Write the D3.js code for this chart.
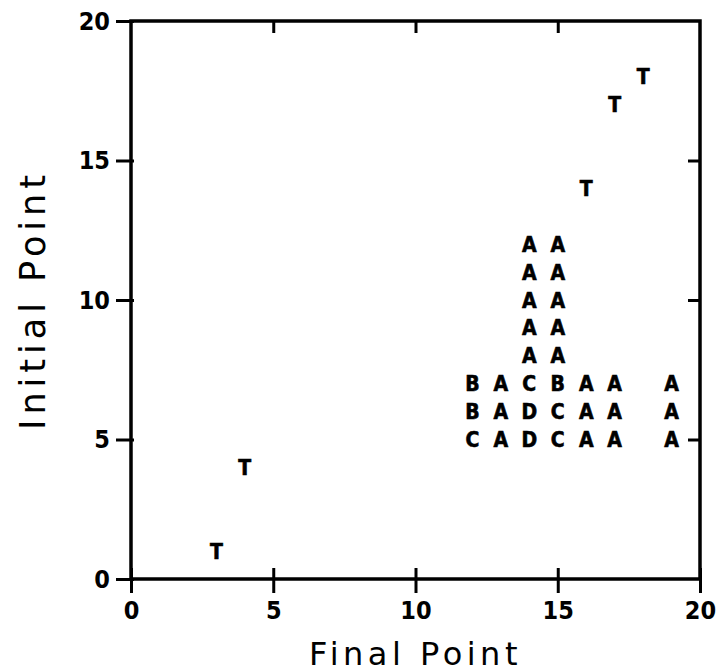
<!DOCTYPE html>
<html>
<head>
<meta charset="utf-8">
<script src="https://cdn.jsdelivr.net/npm/d3@7"></script>
<style>
  body { margin: 0; background: #fff; }
  svg { display: block; }
</style>
</head>
<body>
<div id="chart"></div>
<script>
////////////////////////////////////////////////////////////////
// Data: each point is (final point, initial point) with a code letter

let finalPoint   = [3, 4, 16, 17, 18,
                    12, 12, 12, 13, 13, 13,
                    14, 14, 14, 14, 14, 14, 14, 14,
                    15, 15, 15, 15, 15, 15, 15, 15,
                    16, 16, 16, 17, 17, 17, 19, 19, 19]
let initialPoint = [1, 4, 14, 17, 18,
                    5, 6, 7, 5, 6, 7,
                    5, 6, 7, 8, 9, 10, 11, 12,
                    5, 6, 7, 8, 9, 10, 11, 12,
                    5, 6, 7, 5, 6, 7, 5, 6, 7]
let code         = ["T", "T", "T", "T", "T",
                    "C", "B", "B", "A", "A", "A",
                    "D", "D", "C", "A", "A", "A", "A", "A",
                    "C", "C", "B", "A", "A", "A", "A", "A",
                    "A", "A", "A", "A", "A", "A", "A", "A", "A"]

let xTicks = [0, 5, 10, 15, 20]
let yTicks = [0, 5, 10, 15, 20]
let xTitle = "Final Point"
let yTitle = "Initial Point"

////////////////////////////////////////////////////////////////
// Setup

let svg = d3.select("#chart").append("svg")
  .attr("width", 718)
  .attr("height", 672)

let xScale = d3.scaleLinear().domain([0, 20]).range([131, 700])
let yScale = d3.scaleLinear().domain([0, 20]).range([579, 21])

let tickFont = "'Liberation Sans Narrow', 'DejaVu Sans Condensed', sans-serif"

////////////////////////////////////////////////////////////////
// Frame and ticks

svg.append("rect")
  .attr("x", xScale(0))
  .attr("y", yScale(20))
  .attr("width", xScale(20) - xScale(0))
  .attr("height", yScale(0) - yScale(20))
  .attr("fill", "none")
  .attr("stroke", "black")
  .attr("stroke-width", 3.5)

// bottom axis: ticks cross the line
let gx = svg.append("g")
  .attr("transform", `translate(0,${yScale(0)})`)
  .call(d3.axisBottom(xScale).tickValues(xTicks).tickSize(14).tickPadding(8))
gx.select(".domain").remove()
gx.selectAll(".tick line").attr("y1", -11).attr("stroke-width", 3)
gx.selectAll(".tick text")
  .attr("font-family", tickFont).attr("font-weight", "bold")
  .attr("font-size", 25).attr("fill", "black")

// left axis
let gy = svg.append("g")
  .attr("transform", `translate(${xScale(0)},0)`)
  .call(d3.axisLeft(yScale).tickValues(yTicks).tickSize(15).tickPadding(6))
gy.select(".domain").remove()
gy.selectAll(".tick line").attr("x1", 3).attr("stroke-width", 3)
gy.selectAll(".tick text")
  .attr("font-family", tickFont).attr("font-weight", "bold")
  .attr("font-size", 25).attr("fill", "black")

// top and right: inward ticks only
let gt = svg.append("g")
  .attr("transform", `translate(0,${yScale(20)})`)
  .call(d3.axisTop(xScale).tickValues([5, 10, 15]).tickSize(-12).tickFormat(""))
gt.select(".domain").remove()
gt.selectAll(".tick line").attr("stroke-width", 3)

let gr = svg.append("g")
  .attr("transform", `translate(${xScale(20)},0)`)
  .call(d3.axisRight(yScale).tickValues([5, 10, 15]).tickSize(-12).tickFormat(""))
gr.select(".domain").remove()
gr.selectAll(".tick line").attr("stroke-width", 3)

////////////////////////////////////////////////////////////////
// Points drawn as code letters

svg.append("g")
  .selectAll("text")
  .data(code)
  .enter()
  .append("text")
  .attr("x", (d, i) => xScale(finalPoint[i]))
  .attr("y", (d, i) => yScale(initialPoint[i]))
  .attr("dy", "0.36em")
  .attr("text-anchor", "middle")
  .attr("font-family", tickFont)
  .attr("font-weight", "bold")
  .attr("font-size", 21)
  .attr("stroke", "black")
  .attr("stroke-width", 0.6)
  .text(d => d)

////////////////////////////////////////////////////////////////
// Axis titles

svg.append("text")
  .attr("x", (xScale(0) + xScale(20)) / 2)
  .attr("y", 665)
  .attr("text-anchor", "middle")
  .attr("font-family", "'DejaVu Sans', sans-serif")
  .attr("font-size", 32)
  .attr("letter-spacing", 4.5)
  .text(xTitle)

svg.append("text")
  .attr("transform", `translate(45,${(yScale(0) + yScale(20)) / 2}) rotate(-90)`)
  .attr("text-anchor", "middle")
  .attr("font-family", "'DejaVu Sans', sans-serif")
  .attr("font-size", 35)
  .attr("letter-spacing", 5)
  .text(yTitle)
</script>
</body>
</html>
